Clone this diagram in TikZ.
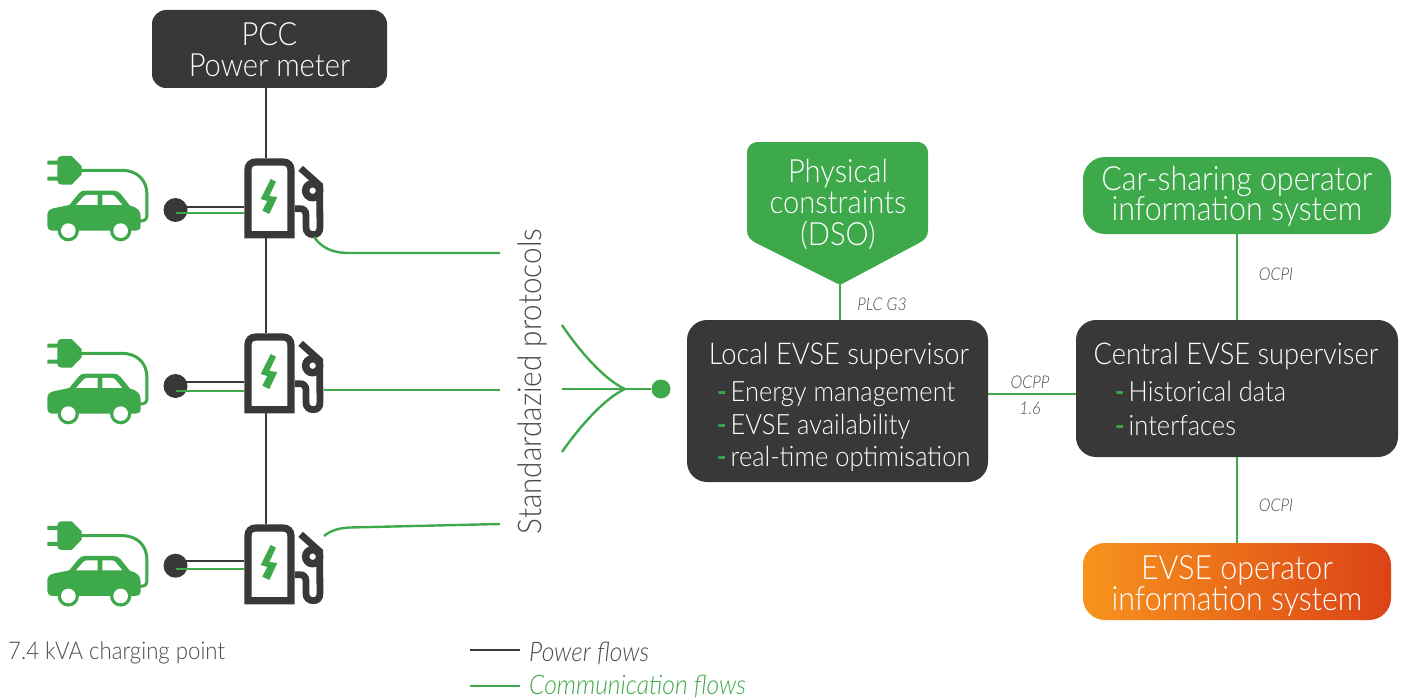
\documentclass[tikz,border=0pt]{standalone}
\usepackage{fontspec}
\setmainfont{Lato}[UprightFont=* Light,ItalicFont=* Light Italic,BoldFont=* Bold,FakeStretch=0.91]
\definecolor{dk}{HTML}{383838}
\definecolor{gr}{HTML}{3DA94A}
\definecolor{gy}{HTML}{4A4A4A}
\definecolor{eo}{HTML}{F7941D}
\definecolor{er}{HTML}{DC4316}
\pgfdeclarehorizontalshading{evse}{100bp}{color(0bp)=(eo);color(25bp)=(eo);color(75bp)=(er);color(100bp)=(er)}
\newcommand{\fs}[1]{\fontsize{#1}{#1}\selectfont}
\newcommand{\hy}{\textcolor{gr}{\bfseries -}\hspace{4pt}}
\tikzset{
  box/.style={inner sep=0pt,align=center,text=white},
  dkbox/.style={box,fill=dk},
  grbox/.style={box,fill=gr},
  big/.style={inner sep=0pt,align=center,text=white,font=\fs{32}},
  wide/.style={inner sep=0pt,align=center,text=white,font=\fs{33.4}},
  lab/.style={inner sep=0pt,text=white,anchor=base west,font=\fs{28}},
  tag/.style={inner sep=0pt,text=gy,font=\fs{17.5}\itshape},
  pow/.style={draw=dk,line width=1.8pt},
  com/.style={draw=gr,line width=2.4pt},
  dot/.style={circle,fill=dk,minimum size=24pt,inner sep=0pt},
  charger/.pic={
    \begin{scope}[x=0.3333pt,y=-0.3333pt]
      \draw[dk,line width=7.2pt,line join=miter] (654,284) -- (654,90) .. controls (654,75) and (663,66) .. (678,66) -- (759,66) .. controls (774,66) and (783,75) .. (783,90) -- (783,284) -- cycle;
      \fill[gr] (722,117) -- (738,125) -- (718,168) -- (742,171) -- (718,222) -- (697,212) -- (712,183) -- (692,177) -- cycle;
      \draw[dk,line width=6.8pt] (812,85) -- (869,136) -- (870,262) .. controls (870,277) and (862,284) .. (850,284) .. controls (838,284) and (828,277) .. (828,262) -- (828,225) .. controls (828,212) and (820,206) .. (810,206) -- (795,206);
      \filldraw[draw=dk,fill=white,line width=7.5pt] (848,152) circle[radius=21];
      \coordinate (-top) at (709,55);
      \coordinate (-bot) at (709,295);
      \coordinate (-wall) at (643,200);
    \end{scope}
  },
  evcar/.pic={
    \begin{scope}[x=0.3333pt,y=-0.3333pt]
      \draw[gr,line width=3pt] (150,91) -- (275,91) .. controls (322,91) and (351,120) .. (351,165) -- (351,225) .. controls (351,238) and (345,243) .. (330,243);
      \fill[gr] (52,62) rectangle (90,74) (52,110) rectangle (90,122);
      \fill[gr] (82,60) .. controls (82,52) and (88,48) .. (95,48) -- (125,48) -- (155,78) -- (155,103) -- (125,134) -- (95,134) .. controls (88,134) and (82,130) .. (82,122) -- cycle;
      \fill[gr] (52,225) .. controls (52,212) and (62,206) .. (75,204) -- (118,195) -- (145,162) .. controls (150,155) and (156,152) .. (165,152) -- (250,152) .. controls (260,152) and (266,155) .. (272,162) -- (300,197) .. controls (322,202) and (332,212) .. (332,230) -- (332,258) .. controls (332,268) and (325,272) .. (318,272) -- (66,272) .. controls (58,272) and (52,266) .. (52,258) -- cycle;
      \fill[white] (138,195) -- (160,170) .. controls (164,166) and (168,165) .. (172,165) -- (203,165) -- (203,195) -- cycle;
      \fill[white] (217,165) -- (245,165) .. controls (250,165) and (254,167) .. (257,171) -- (277,195) -- (217,195) -- cycle;
      \fill[gr] (115,272) circle[radius=32] (272,272) circle[radius=32];
      \fill[white] (115,272) circle[radius=22] (272,272) circle[radius=22];
    \end{scope}
  }
}
\begin{document}
\begin{tikzpicture}[x=1pt,y=-1pt]
\useasboundingbox (0,0) rectangle (1402,698);
% boxes
\node[dkbox,minimum width=235pt,minimum height=78pt,rounded corners=14pt] (pcc) at (269.5,49) {};
\node[big] (pcct) at (269.5,50) {PCC\\[-1pt]Power meter};
\node[dkbox,minimum width=301pt,minimum height=162pt,rounded corners=20pt] (local) at (837.5,401) {};
\node[dkbox,minimum width=322pt,minimum height=137pt,rounded corners=20pt] (central) at (1237,388.5) {};
\node[grbox,minimum width=308pt,minimum height=77pt,rounded corners=22pt] (cso) at (1237,195.5) {};
\node[wide] (csot) at (1237,196.5) {Car-sharing operator\\[-3pt]information system};
\node[box,shading=evse,minimum width=308pt,minimum height=77pt,rounded corners=22pt] (eos) at (1237,581.5) {};
\node[wide] (eost) at (1237,586) {EVSE operator\\[-3pt]information system};
% physical constraints
\coordinate (tip) at (840,285);
\fill[gr] (tip) -- (756,243) .. controls (750,240) and (747,236) .. (747,230) -- (747,154) .. controls (747,146) and (751,142) .. (759,142) -- (916,142) .. controls (924,142) and (928,146) .. (928,154) -- (928,230) .. controls (928,236) and (925,240) .. (919,243) -- cycle;
\node[big] (phys) at (838,204) {Physical\\[-0.5pt]constraints\\[-0.5pt](DSO)};
% texts in dark boxes
\node[inner sep=0pt,text=white,font=\fs{30}] (lt) at (839,356) {Local EVSE supervisor};
\node[lab] (l1) at (717,401) {\hy Energy management};
\node[lab] (l2) at (717,434) {\hy EVSE availability};
\node[lab] (l3) at (717,466) {\hy real-time optimisation};
\node[inner sep=0pt,text=white,font=\fs{30}] (ct) at (1236,356) {Central EVSE superviser};
\node[lab] (c1) at (1115,401) {\hy Historical data};
\node[lab] (c2) at (1115,435) {\hy interfaces};
% chargers & cars
\pic (ch1) at (30,140) {charger};
\pic (ch2) at (30,315) {charger};
\pic (ch3) at (30,506) {charger};
\pic (car1) at (30,140) {evcar};
\pic (car2) at (30,323) {evcar};
\pic (car3) at (30,505.3) {evcar};
% power
\draw[pow] (pcc.south -| ch1-top) -- (ch1-top);
\draw[pow] (ch1-bot) -- (ch2-top);
\draw[pow] (ch2-bot) -- (ch3-top);
% dots
\node[dot] (d1) at (175.5,210) {};
\node[dot] (d2) at (175.5,386) {};
\node[dot] (d3) at (175.5,565.7) {};
\foreach \i/\p/\g in {1/206.7/212.7,2/382.3/390.7,3/561/569}{
  \draw[pow] (d\i.center |- 0,\p) -- (ch\i-wall |- 0,\p);
  \draw[com] (d\i.center |- 0,\g) -- (ch\i-wall |- 0,\g);
}
% comm lines
\coordinate (s1) at (314,237);
\coordinate (e1) at (500,253);
\coordinate (s2) at (324,390);
\coordinate (e2) at (500,390);
\coordinate (s3) at (324,536);
\coordinate (e3) at (500,524);
\draw[com] (s1) .. controls (322,248) and (332,253) .. (350,253) -- (e1);
\draw[com] (s2) -- (e2);
\draw[com] (s3) .. controls (330,531) and (338,528) .. (350,527.5) -- (e3);
\node[inner sep=0pt,text=gy,rotate=90,font=\fs{32.6}] (std) at (533,381.5) {Standardazied protocols};
\node[circle,fill=gr,minimum size=19pt,inner sep=0pt] (hub) at (661,389) {};
\coordinate (j) at (625,389);
\coordinate (f1) at (562,325);
\coordinate (f2) at (562,389);
\coordinate (f3) at (562,452);
\draw[com] (f1) .. controls (580,352) and (605,380) .. (j);
\draw[com] (f3) .. controls (580,426) and (605,398) .. (j);
\draw[com] (f2) -- (hub);
\draw[com] (tip) -- (tip |- local.north);
\draw[com] (local.east |- 0,394) -- (central.west |- 0,394);
\draw[com] (cso.south) -- (central.north);
\draw[com] (central.south) -- (eos.north);
\node[tag] (t1) at (882,304) {PLC G3};
\node[tag] (t2) at (1030,382) {OCPP};
\node[tag] (t3) at (1030,408) {1.6};
\node[tag] (t4) at (1276,274) {OCPI};
\node[tag] (t5) at (1276,505) {OCPI};
% legend
\node[inner sep=0pt,anchor=west,text=gy,font=\fs{24.4}] (kva) at (8,653) {7.4 kVA charging point};
\coordinate (la) at (470,650);
\coordinate (lb) at (520,650);
\coordinate (lc) at (470,686);
\coordinate (ld) at (520,686);
\draw[pow] (la) -- (lb);
\draw[com] (lc) -- (ld);
\node[inner sep=0pt,anchor=west,text=gy,font=\fs{27}\itshape] (lp) at (529,653) {Power flows};
\node[inner sep=0pt,anchor=west,text=gr,font=\fs{27}\itshape] (lq) at (529,686) {Communication flows};
\end{tikzpicture}
\end{document}
